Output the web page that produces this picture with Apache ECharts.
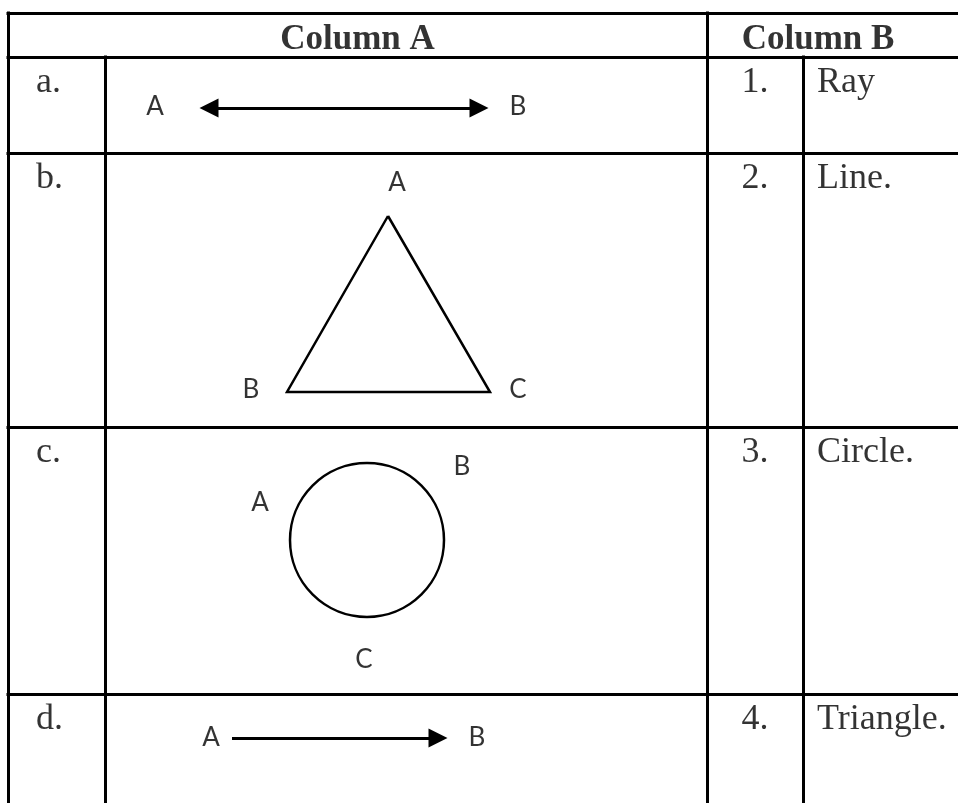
<!DOCTYPE html>
<html>
<head>
<meta charset="utf-8">
<title>Column A / Column B</title>
<script src="https://cdn.jsdelivr.net/npm/echarts@6/dist/echarts.min.js"></script>
<style>
  html, body { margin: 0; padding: 0; background: #fff; }
  #chart { width: 958px; height: 803px; }
</style>
</head>
<body>
<div id="chart"></div>
<script>
// table text
const headers = ['Column A', 'Column B'];
const rowLetters = ['a.', 'b.', 'c.', 'd.'];
const rowNumbers = ['1.', '2.', '3.', '4.'];
const rowNames = ['Ray', 'Line.', 'Circle.', 'Triangle.'];

// figure geometry (page units, y down)
const arrowA = [[209, 108], [479, 108]];          // a. double arrow (shaft ends, heads sit on them)
const triangle = [[388, 216], [490, 392], [287, 392], [388, 216]]; // b.
const circle = [367, 540, 77];                    // c. centre x, y, radius
const arrowD = [[232, 738], [438, 738]];          // d. single arrow
const pointNames = ['A', 'B', 'A', 'B', 'C', 'A', 'B', 'C', 'A', 'B'];
const pointX = [155, 518, 397, 251, 518, 260, 462, 364, 211, 477];
const pointY = [107, 107, 183, 390, 390, 503, 467, 660, 738, 738];

// table layout
const colEdges = [8, 105, 707, 803, 958];
const rowEdges = [13, 57, 153, 427, 694, 803];
const W = 958, H = 803;

// grid lines of the table
let tableLines = [];
rowEdges.slice(0, 5).forEach(y => {
  tableLines.push({ coords: [[colEdges[0], y], [colEdges[4], y]] });
});
tableLines.push({ coords: [[colEdges[0], rowEdges[0]], [colEdges[0], H]] });
tableLines.push({ coords: [[colEdges[1], rowEdges[1]], [colEdges[1], H]] });
tableLines.push({ coords: [[colEdges[2], rowEdges[0]], [colEdges[2], H]] });
tableLines.push({ coords: [[colEdges[3], rowEdges[1]], [colEdges[3], H]] });

// text items
let headerItems = [
  { name: headers[0], value: [(colEdges[0] + colEdges[2]) / 2, rowEdges[0] + 27] },
  { name: headers[1], value: [colEdges[2] + 111, rowEdges[0] + 27] }
];
let letterItems = rowLetters.map((t, i) => ({ name: t, value: [colEdges[0] + 28, rowEdges[i + 1] + 26] }));
let numberItems = rowNumbers.map((t, i) => ({ name: t, value: [(colEdges[2] + colEdges[3]) / 2, rowEdges[i + 1] + 26] }));
let nameItems = rowNames.map((t, i) => ({ name: t, value: [colEdges[3] + 14, rowEdges[i + 1] + 26] }));
let pointItems = pointNames.map((t, i) => ({ name: t, value: [pointX[i], pointY[i]] }));

function textSeries(items, font, size, weight, align) {
  return {
    type: 'scatter',
    data: items,
    symbolSize: 0,
    silent: true,
    clip: false,
    label: {
      show: true,
      position: 'inside',
      formatter: '{b}',
      color: '#000',
      fontFamily: font,
      fontSize: size,
      fontWeight: weight,
      align: align,
      verticalAlign: 'middle'
    }
  };
}

const serif = '"Liberation Serif", "Times New Roman", serif';

let myChart = echarts.init(document.getElementById('chart'));
let option = {
  backgroundColor: '#fff',
  animation: false,
  grid: { left: 0, right: 0, top: 0, bottom: 0 },
  xAxis: { type: 'value', min: 0, max: W, show: false },
  yAxis: { type: 'value', min: 0, max: H, inverse: true, show: false },
  series: [
    {
      type: 'lines',
      coordinateSystem: 'cartesian2d',
      data: tableLines,
      symbol: 'none',
      lineStyle: { color: '#000', width: 3, opacity: 1, cap: 'square' }
    },
    {
      type: 'lines',
      coordinateSystem: 'cartesian2d',
      data: [{ coords: arrowA }],
      symbol: ['triangle', 'triangle'],
      symbolSize: 19,
      lineStyle: { color: '#000', width: 3, opacity: 1 }
    },
    {
      type: 'lines',
      coordinateSystem: 'cartesian2d',
      data: [{ coords: arrowD }],
      symbol: ['none', 'triangle'],
      symbolSize: 19,
      lineStyle: { color: '#000', width: 3, opacity: 1 }
    },
    {
      type: 'lines',
      coordinateSystem: 'cartesian2d',
      polyline: true,
      data: [{ coords: triangle }],
      symbol: 'none',
      lineStyle: { color: '#000', width: 2.5, opacity: 1, join: 'miter' }
    },
    {
      type: 'custom',
      coordinateSystem: 'cartesian2d',
      data: [circle],
      renderItem: function (params, api) {
        let c = api.coord([api.value(0), api.value(1)]);
        let s = api.size([api.value(2), api.value(2)]);
        return {
          type: 'circle',
          shape: { cx: c[0], cy: c[1], r: Math.abs(s[0]) },
          style: { fill: 'none', stroke: '#000', lineWidth: 2.5 }
        };
      }
    },
    textSeries(headerItems, serif, 35, 'bold', 'center'),
    textSeries(letterItems, serif, 36, 'normal', 'left'),
    textSeries(numberItems, serif, 36, 'normal', 'center'),
    textSeries(nameItems, serif, 36, 'normal', 'left'),
    textSeries(pointItems, 'Lato, "Open Sans", sans-serif', 26, 'normal', 'center')
  ]
};
myChart.setOption(option);
</script>
</body>
</html>
